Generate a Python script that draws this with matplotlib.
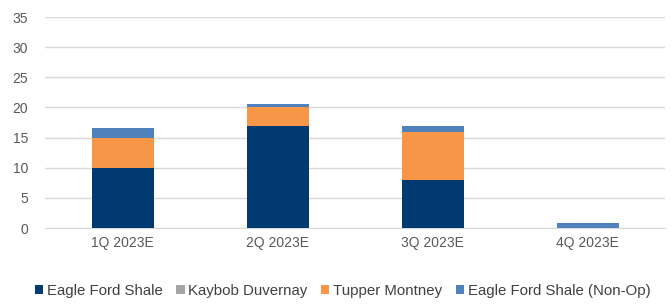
import numpy as np
import matplotlib
matplotlib.use('Agg')
from matplotlib import pyplot as plt

quarters = ['1Q 2023E', '2Q 2023E', '3Q 2023E', '4Q 2023E']
eagle_ford = [10, 17, 8, 0]
kaybob = [0, 0, 0, 0]
tupper = [5, 3, 8, 0]
eagle_nonop = [1.6, 0.5, 0.9, 0.8]

series = [('Eagle Ford Shale', eagle_ford, '#003A70'),
          ('Kaybob Duvernay', kaybob, '#A5A5A5'),
          ('Tupper Montney', tupper, '#F79646'),
          ('Eagle Ford Shale (Non-Op)', eagle_nonop, '#4F81BD')]

plt.rcParams['font.family'] = ['Liberation Sans', 'DejaVu Sans']
fig = plt.figure(figsize=(6.72, 3.04), dpi=100)
ax = fig.add_axes([0.067, 0.25, 0.923, 0.694])

x = np.arange(len(quarters))
bottom = np.zeros(len(quarters))
for name, vals, col in series:
    ax.bar(x, vals, 0.4, bottom=bottom, color=col, label=name, zorder=3)
    bottom += np.array(vals)

ax.set_xlim(-0.5, len(quarters) - 0.5)
ax.set_ylim(0, 35)
ax.set_yticks(range(0, 36, 5))
ax.set_xticks(x)
ax.set_xticklabels(quarters)
ax.tick_params(length=0, labelsize=10, colors='#595959')
ax.tick_params(axis='x', pad=6)
ax.tick_params(axis='y', pad=12)
ax.grid(axis='y', color='#D9D9D9', linewidth=1, zorder=0)
for s in ['top', 'right', 'left']:
    ax.spines[s].set_visible(False)
ax.spines['bottom'].set_color('#D9D9D9')

fig.legend(loc='center', bbox_to_anchor=(0.51, 0.042), ncol=4, frameon=False,
           fontsize=10.8, handlelength=0.55, handleheight=0.55, handletextpad=0.25,
           columnspacing=0.9, labelcolor='#404040')

fig.savefig('out.png', dpi=100)
